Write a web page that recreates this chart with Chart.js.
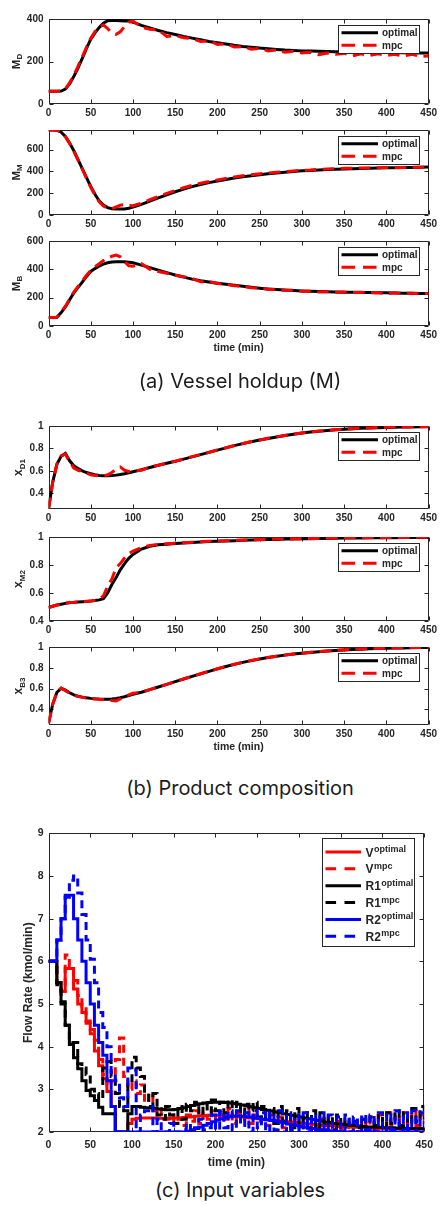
<!DOCTYPE html>
<html>
<head>
<meta charset="utf-8">
<script src="https://cdn.jsdelivr.net/npm/chart.js@4.4.1/dist/chart.umd.min.js"></script>
<style>
  html, body { margin: 0; padding: 0; background: #fff; }
  #page { position: relative; width: 440px; height: 1205px; overflow: hidden; }
  #page canvas { position: absolute; left: 0; }
  .caption { position: absolute; left: 0; width: 480px; text-align: center;
             font-family: Inter, "Noto Sans", sans-serif; font-size: 20px; line-height: 24px; color: #1c1c1c; }
</style>
</head>
<body>
<div id="page">
  <canvas id="cMD" width="440" height="112" style="top:8px"></canvas>
  <canvas id="cMM" width="440" height="112" style="top:119px"></canvas>
  <canvas id="cMB" width="440" height="124" style="top:230px"></canvas>
  <div class="caption" style="top:369px">(a) Vessel holdup (M)</div>
  <canvas id="cXD" width="440" height="110" style="top:415px"></canvas>
  <canvas id="cXM" width="440" height="111" style="top:526px"></canvas>
  <canvas id="cXB" width="440" height="117" style="top:636px"></canvas>
  <div class="caption" style="top:776px">(b) Product composition</div>
  <canvas id="cFlow" width="440" height="348" style="top:822px"></canvas>
  <div class="caption" style="top:1178px">(c) Input variables</div>
</div>
<script>
// ---------- time axes (min) ----------
const tProfile = [0,5,10,15,20,25,30,35,40,45,50,55,60,65,70,75,80,85,90,95,100,
  110,120,130,140,150,160,170,180,190,200,210,220,230,240,250,260,270,280,290,300,
  310,320,330,340,350,360,370,380,390,400,410,420,430,440,450];
const tFlow = [0,5,10,15,20,25,30,35,40,45,50,55,60,65,70,75,80,85,90,95,
  100,105,110,115,120,125,130,135,140,145,150,155,160,165,170,175,180,185,190,195,
  200,205,210,215,220,225,230,235,240,245,250,255,260,265,270,275,280,285,290,295,
  300,305,310,315,320,325,330,335,340,345,350,355,360,365,370,375,380,385,390,395,
  400,405,410,415,420,425,430,435,440,445,450];

// ---------- tick labels ----------
const timeTicks = [0,50,100,150,200,250,300,350,400,450];
const ticksMD = [0,200,400];
const ticksMM = [0,200,400,600];
const ticksMB = [0,200,400,600];
const ticksX = [0.4,0.6,0.8,1];
const ticksFlow = [2,3,4,5,6,7,8,9];

// ---------- vessel holdups ----------
const holdupD_opt = [60,60,60,61,70,95,130,170,215,262,305,335,360,380,392,393,393,392,391,390,385,
  370,358,346,336,327,318,310,302,294,288,282,276,271,267,263,260,257,254,252,250,
  249,248,247,246,245,244,244,243,243,242,242,241,241,240,240];
const holdupD_mpc = [60,60,60,61,72,100,135,178,222,268,310,340,362,372,355,335,328,340,365,385,390,
  362,352,348,318,322,312,308,294,298,280,284,268,270,258,262,250,254,244,248,240,
  243,232,240,234,238,226,236,228,236,228,234,226,234,224,226];
const holdupM_opt = [780,780,778,760,721,660,590,508,426,343,262,190,131,92,68,58,55,55,56,62,72,
  98,128,158,186,213,238,260,280,297,312,326,339,351,361,370,378,386,393,399,405,
  409,413,417,420,423,425,427,429,431,433,434,436,437,438,440];
const holdupM_mpc = [780,780,778,758,718,655,585,502,420,336,255,182,122,82,62,58,75,90,95,88,85,
  108,140,170,198,224,250,272,292,308,322,336,349,360,370,378,386,392,398,404,410,
  413,418,421,424,428,428,432,432,434,435,436,436,438,438,442];
const holdupB_opt = [60,60,62,95,134,185,234,273,310,350,385,405,423,437,446,451,453,453,453,450,446,
  430,412,394,377,360,345,331,319,310,302,294,287,280,273,267,262,258,254,250,247,
  245,243,241,240,239,238,237,236,235,234,233,232,231,230,229];
const holdupB_mpc = [60,60,62,100,140,190,240,280,318,358,392,418,440,462,480,492,500,488,455,425,422,
  440,400,385,372,358,347,336,312,314,300,296,284,280,270,268,258,258,250,252,246,
  246,240,242,238,240,236,238,234,236,228,234,230,232,228,230];

// ---------- product compositions ----------
const compD1_opt = [0.26,0.5,0.66,0.73,0.755,0.69,0.645,0.62,0.6,0.585,0.575,0.565,0.558,0.556,0.556,0.558,0.562,0.568,0.575,0.583,0.592,
  0.61,0.63,0.65,0.668,0.685,0.705,0.725,0.745,0.765,0.785,0.805,0.825,0.843,0.86,0.875,0.889,0.902,0.915,0.927,0.937,
  0.946,0.954,0.96,0.966,0.971,0.975,0.979,0.982,0.985,0.987,0.989,0.991,0.992,0.993,0.994];
const compD1_mpc = [0.26,0.5,0.66,0.735,0.75,0.68,0.625,0.605,0.595,0.58,0.565,0.558,0.555,0.555,0.565,0.585,0.615,0.635,0.605,0.595,0.6,
  0.605,0.635,0.65,0.668,0.686,0.706,0.727,0.746,0.766,0.787,0.806,0.826,0.844,0.861,0.876,0.89,0.903,0.916,0.928,0.938,
  0.947,0.955,0.961,0.967,0.972,0.976,0.98,0.983,0.986,0.988,0.99,0.992,0.993,0.994,0.995];
const compM2_opt = [0.496,0.505,0.514,0.52,0.526,0.53,0.533,0.536,0.538,0.54,0.542,0.546,0.551,0.56,0.6,0.66,0.71,0.765,0.81,0.848,0.876,
  0.914,0.934,0.944,0.949,0.953,0.957,0.961,0.964,0.967,0.97,0.972,0.974,0.976,0.978,0.98,0.982,0.983,0.985,0.986,0.987,
  0.988,0.989,0.99,0.991,0.992,0.993,0.993,0.994,0.994,0.995,0.995,0.996,0.996,0.997,0.997];
const compM2_mpc = [0.496,0.505,0.514,0.52,0.528,0.532,0.534,0.537,0.539,0.541,0.543,0.548,0.556,0.58,0.65,0.7,0.78,0.81,0.85,0.88,0.9,
  0.925,0.94,0.948,0.952,0.956,0.959,0.963,0.966,0.969,0.972,0.974,0.976,0.978,0.98,0.982,0.983,0.985,0.986,0.987,0.988,
  0.989,0.99,0.991,0.992,0.993,0.994,0.994,0.995,0.995,0.996,0.996,0.997,0.997,0.998,0.998];
const compB3_opt = [0.265,0.45,0.565,0.603,0.585,0.56,0.54,0.527,0.518,0.511,0.506,0.502,0.499,0.497,0.497,0.5,0.506,0.513,0.522,0.533,0.545,
  0.565,0.59,0.615,0.64,0.667,0.692,0.717,0.742,0.766,0.79,0.812,0.833,0.852,0.869,0.885,0.899,0.911,0.922,0.932,0.94,
  0.948,0.955,0.961,0.967,0.972,0.976,0.979,0.982,0.985,0.988,0.99,0.991,0.993,0.994,0.995];
const compB3_mpc = [0.265,0.45,0.57,0.605,0.58,0.555,0.537,0.525,0.516,0.509,0.504,0.5,0.497,0.495,0.49,0.485,0.482,0.5,0.52,0.54,0.555,
  0.565,0.59,0.616,0.641,0.668,0.693,0.718,0.743,0.767,0.791,0.813,0.834,0.853,0.87,0.886,0.9,0.912,0.923,0.933,0.941,
  0.949,0.956,0.962,0.968,0.973,0.977,0.98,0.983,0.986,0.989,0.991,0.992,0.994,0.995,0.996];

// ---------- input variables (kmol/min), held over each 5 min interval ----------
const flowV_opt = [6,6,5.5,5.3,5.83,5.83,5.35,5.0,4.8,4.55,
  4.3,3.9,3.55,3.25,2.95,2.6,2,2,2,2.2,
  2.3,2.32,2.33,2.33,2.33,2.33,2.32,2.32,2.32,2.32,
  2.33,2.33,2.34,2.35,2.36,2.37,2.38,2.38,2.39,2.39,
  2.39,2.39,2.38,2.38,2.37,2.36,2.35,2.34,2.33,2.32,
  2.31,2.3,2.29,2.28,2.27,2.26,2.25,2.24,2.23,2.22,
  2.21,2.2,2.19,2.18,2.17,2.16,2.15,2.15,2.14,2.13,
  2.13,2.12,2.12,2.11,2.11,2.1,2.1,2.1,2.09,2.09,
  2.09,2.08,2.08,2.08,2.08,2.07,2.07,2.07,2.07,2.07,
  2.07];
const flowV_mpc = [6,6,5.5,5.3,6.15,5.9,5.55,5.2,4.95,4.6,
  4.4,4.15,3.7,3.35,3.1,3.2,3.7,4.2,3.3,3.0,
  3.2,2.9,3.1,2.7,2.9,2.5,2.55,2.35,2.3,2.25,
  2.4,2.3,2.15,2.4,2.25,2.5,2.2,2.45,2.3,2.5,
  2.25,2.45,2.3,2.55,2.2,2.45,2.3,2.5,2.2,2.4,
  2.25,2.45,2.15,2.4,2.2,2.35,2.1,2.4,2.15,2.3,
  2.1,2.35,2.05,2.3,2.1,2.3,2.05,2.35,2.1,2.25,
  2.05,2.3,2.1,2.2,2.0,2.3,2.1,2.35,2.05,2.4,
  2.1,2.45,2.15,2.4,2.1,2.45,2.2,2.5,2.15,2.4,
  2.2];
const flowR1_opt = [6,6,5.5,5.0,4.5,4.05,3.74,3.48,3.2,2.97,
  2.85,2.74,2.58,2.43,2.43,2.43,2,2,2,2.43,
  2.6,2.6,2.58,2.57,2.56,2.55,2.54,2.53,2.52,2.52,
  2.53,2.55,2.57,2.6,2.62,2.64,2.66,2.68,2.69,2.7,
  2.7,2.7,2.69,2.68,2.67,2.65,2.63,2.61,2.59,2.57,
  2.55,2.53,2.51,2.49,2.47,2.45,2.43,2.41,2.39,2.37,
  2.35,2.33,2.31,2.29,2.27,2.25,2.23,2.22,2.2,2.19,
  2.18,2.17,2.16,2.15,2.14,2.13,2.12,2.12,2.11,2.11,
  2.1,2.1,2.1,2.09,2.09,2.09,2.08,2.08,2.08,2.08,
  2.08];
const flowR1_mpc = [6,6,5.45,5.05,4.5,4.1,4.1,3.6,3.5,3.35,
  3.0,2.9,2.75,3.5,3.65,3.3,2.9,2.6,2.5,3.2,
  3.75,3.5,3.3,2.9,2.6,2.9,2.4,2.3,2.6,2.4,
  2.2,2.6,2.3,2.65,2.5,2.7,2.4,2.65,2.45,2.75,
  2.5,2.7,2.45,2.75,2.55,2.7,2.4,2.65,2.5,2.7,
  2.35,2.6,2.3,2.55,2.2,2.6,2.25,2.5,2.1,2.55,
  2.15,2.45,2.1,2.5,2.05,2.45,2.15,2.35,2.05,2.4,
  2.1,2.3,2.0,2.25,2.1,2.3,2.05,2.35,2.15,2.4,
  2.1,2.45,2.2,2.5,2.15,2.45,2.2,2.55,2.25,2.6,
  2.3];
const flowR2_opt = [6,6,6.5,7.0,7.55,7.55,7.0,6.5,6.0,5.5,
  5.0,4.5,4.1,3.8,3.2,2.6,2,2,2,2,
  2,2,2,2,2,2,2,2,2,2,
  2,2,2,2.02,2.05,2.08,2.12,2.16,2.2,2.24,
  2.28,2.31,2.34,2.36,2.37,2.38,2.37,2.36,2.35,2.33,
  2.32,2.3,2.29,2.27,2.25,2.23,2.21,2.19,2.17,2.15,
  2.13,2.11,2.09,2.08,2.06,2.05,2.04,2.03,2.02,2.01,
  2,2,2,2,2,2,2,2,2,2,
  2,2,2,2,2,2,2,2,2,2,
  2];
const flowR2_mpc = [6,6,6.5,7.0,7.5,7.9,8.0,7.6,7.1,6.5,
  6.05,5.5,4.8,4.45,4.0,3.4,3.2,2.8,2.6,3.5,
  3.45,2.0,2.4,2.5,2.6,2.0,2.3,2.0,2.0,2.2,
  2.0,2.0,2.05,2.2,2.0,2.1,2.3,2.05,2.1,2.4,
  2.05,2.5,2.1,2.5,2.05,2.5,2.15,2.45,2.0,2.5,
  2.1,2.45,2.0,2.45,2.05,2.5,2.0,2.45,2.05,2.4,
  2.0,2.45,2.0,2.4,2.05,2.45,2.0,2.4,2.0,2.35,
  2.0,2.4,2.0,2.35,2.0,2.4,2.05,2.4,2.0,2.45,
  2.0,2.45,2.05,2.5,2.0,2.45,2.05,2.5,2.0,2.45,
  2.1];

// ---------- drawing helpers ----------
const INK = '#262626';
const SANS = '"Liberation Sans", Arial, Helvetica, sans-serif';

function points(times, values) {
  return times.map((t, i) => ({ x: t, y: values[i] }));
}

// framed axes with inward tick marks on all four sides
const framedAxes = {
  id: 'framedAxes',
  beforeDatasetsDraw(chart, args, o) {
    const { ctx, chartArea: a, scales: { x, y } } = chart;
    const L = Math.round(a.left) + 0.5, R = Math.round(a.right) - 0.5;
    const T = Math.round(a.top) + 0.5, B = Math.round(a.bottom) - 0.5;
    const len = o.tick;
    ctx.save();
    ctx.strokeStyle = INK;
    ctx.lineWidth = 1;
    ctx.beginPath();
    ctx.rect(L, T, R - L, B - T);
    x.ticks.forEach(t => {
      const px = Math.round(x.getPixelForValue(t.value)) + 0.5;
      ctx.moveTo(px, B); ctx.lineTo(px, B - len);
      ctx.moveTo(px, T); ctx.lineTo(px, T + len);
    });
    y.ticks.forEach(t => {
      const py = Math.round(y.getPixelForValue(t.value)) + 0.5;
      ctx.moveTo(L, py); ctx.lineTo(L + len, py);
      ctx.moveTo(R, py); ctx.lineTo(R - len, py);
    });
    ctx.stroke();
    ctx.restore();
  }
};

// rotated y-axis label with an optional subscript
const sideTitle = {
  id: 'sideTitle',
  afterDraw(chart, args, o) {
    if (!o.text) return;
    const { ctx, chartArea: a } = chart;
    const main = `bold ${o.size}px ${SANS}`;
    const small = `bold ${o.subSize || o.size}px ${SANS}`;
    ctx.save();
    ctx.fillStyle = INK;
    ctx.font = main;
    const w1 = ctx.measureText(o.text).width;
    let w2 = 0;
    if (o.sub) { ctx.font = small; w2 = ctx.measureText(o.sub).width; }
    ctx.translate(o.x, (a.top + a.bottom) / 2);
    ctx.rotate(-Math.PI / 2);
    ctx.textAlign = 'left';
    ctx.textBaseline = 'alphabetic';
    const x0 = -(w1 + w2) / 2;
    ctx.font = main;
    ctx.fillText(o.text, x0, 0);
    if (o.sub) { ctx.font = small; ctx.fillText(o.sub, x0 + w1, o.subShift); }
    ctx.restore();
  }
};

// boxed legend inside the upper-right corner of the plot
const boxLegend = {
  id: 'boxLegend',
  afterDatasetsDraw(chart, args, o) {
    const { ctx, chartArea: a } = chart;
    const left = Math.round(a.right - o.right - o.width);
    const top = Math.round(a.top + o.top);
    ctx.save();
    ctx.fillStyle = '#fff';
    ctx.fillRect(left, top, o.width, o.height);
    ctx.strokeStyle = INK;
    ctx.lineWidth = 1;
    ctx.strokeRect(left + 0.5, top + 0.5, o.width, o.height);
    chart.data.datasets.forEach((ds, i) => {
      const yy = top + o.first + i * o.step;
      ctx.strokeStyle = ds.borderColor;
      ctx.lineWidth = ds.borderWidth;
      ctx.setLineDash(ds.borderDash ? o.dash : []);
      ctx.beginPath();
      ctx.moveTo(left + o.lineFrom, yy);
      ctx.lineTo(left + o.lineFrom + o.lineLen, yy);
      ctx.stroke();
      ctx.setLineDash([]);
      ctx.fillStyle = INK;
      ctx.textAlign = 'left';
      ctx.textBaseline = 'alphabetic';
      ctx.font = `bold ${o.size}px ${SANS}`;
      const tx = left + o.textFrom;
      ctx.fillText(ds.label, tx, yy + o.base);
      if (ds.sup) {
        const w = ctx.measureText(ds.label).width;
        ctx.font = `bold ${o.supSize}px ${SANS}`;
        ctx.fillText(ds.sup, tx + w + 0.5, yy + o.base - o.supRise);
      }
    });
    ctx.restore();
  }
};

function lineSet(label, times, values, color, dash, order, sup) {
  return {
    label, sup, order,
    data: points(times, values),
    borderColor: color,
    borderWidth: 3,
    borderDash: dash,
    pointRadius: 0,
    fill: false,
    tension: 0
  };
}

function makeChart(id, spec) {
  const tickFont = { family: SANS, weight: 'bold', size: spec.tickSize };
  return new Chart(document.getElementById(id), {
    type: 'line',
    data: { datasets: spec.datasets },
    options: {
      responsive: false,
      animation: false,
      events: [],
      layout: { padding: { top: 8, right: 8.5, left: 0, bottom: 0 } },
      scales: {
        x: {
          type: 'linear', min: 0, max: 450,
          afterBuildTicks: s => { s.ticks = timeTicks.map(v => ({ value: v })); },
          afterFit: s => { s.height = spec.bottom; },
          grid: { display: false, drawTicks: false },
          border: { display: false },
          ticks: { color: INK, padding: spec.xPad, maxRotation: 0, autoSkip: false,
                   font: tickFont, callback: v => String(v) },
          title: spec.xTitle
            ? { display: true, text: 'time (min)', color: INK, padding: { top: 0, bottom: 0 },
                font: { family: SANS, weight: 'bold', size: spec.xTitleSize } }
            : { display: false }
        },
        y: {
          type: 'linear', min: spec.yMin, max: spec.yMax,
          afterBuildTicks: s => { s.ticks = spec.yTicks.map(v => ({ value: v })); },
          afterFit: s => { s.width = 48.5; },
          grid: { display: false, drawTicks: false },
          border: { display: false },
          ticks: { color: INK, padding: 5, autoSkip: false, font: tickFont, callback: v => String(v) }
        }
      },
      plugins: {
        legend: { display: false },
        tooltip: { enabled: false },
        framedAxes: { tick: 4 },
        sideTitle: spec.yTitle,
        boxLegend: spec.legend
      }
    },
    plugins: [framedAxes, sideTitle, boxLegend]
  });
}

// ---------- subplots of holdup and composition ----------
const profileDash = [11.5, 6.5];
const smallLegend = { right: 10, top: 6, width: 81, height: 28, first: 7.8, step: 12.5,
  lineFrom: 3.5, lineLen: 36.5, textFrom: 44, size: 10, base: 3.5, dash: [13.5, 8] };

function profilePair(opt, mpc) {
  return [
    lineSet('optimal', tProfile, opt, '#000000', undefined, 1),
    lineSet('mpc', tProfile, mpc, '#ff0000', profileDash, 0)
  ];
}

function profile(id, opt, mpc, yMin, yMax, yTicks, yTitle, withTime) {
  makeChart(id, {
    datasets: profilePair(opt, mpc),
    yMin, yMax, yTicks, yTitle,
    tickSize: 10, xPad: 3,
    bottom: withTime ? 28 : 16,
    xTitle: withTime, xTitleSize: 10.5,
    legend: smallLegend
  });
}

profile('cMD', holdupD_opt, holdupD_mpc, 0, 400, ticksMD,
  { text: 'M', sub: 'D', x: 19.5, size: 11.5, subSize: 8, subShift: 2.8 }, false);
profile('cMM', holdupM_opt, holdupM_mpc, 0, 780, ticksMM,
  { text: 'M', sub: 'M', x: 19.5, size: 11.5, subSize: 8, subShift: 2.8 }, false);
profile('cMB', holdupB_opt, holdupB_mpc, 0, 600, ticksMB,
  { text: 'M', sub: 'B', x: 19.5, size: 11.5, subSize: 8, subShift: 2.8 }, true);
profile('cXD', compD1_opt, compD1_mpc, 0.26, 1, ticksX,
  { text: 'x', sub: 'D1', x: 22.3, size: 12, subSize: 8, subShift: 2.7 }, false);
profile('cXM', compM2_opt, compM2_mpc, 0.4, 1, ticksX,
  { text: 'x', sub: 'M2', x: 22.3, size: 12, subSize: 8, subShift: 2.7 }, false);
profile('cXB', compB3_opt, compB3_mpc, 0.25, 1, ticksX,
  { text: 'x', sub: 'B3', x: 22.3, size: 12, subSize: 8, subShift: 2.7 }, true);

// ---------- flow rates, zero-order hold ----------
const flowDash = [8, 5];
function flowSet(label, sup, values, color, dashed, order) {
  const ds = lineSet(label, tFlow, values, color, dashed ? flowDash : undefined, order, sup);
  ds.stepped = 'before';
  return ds;
}

makeChart('cFlow', {
  datasets: [
    flowSet('V', 'optimal', flowV_opt, '#ff0000', false, 5),
    flowSet('V', 'mpc', flowV_mpc, '#ff0000', true, 4),
    flowSet('R1', 'optimal', flowR1_opt, '#000000', false, 3),
    flowSet('R1', 'mpc', flowR1_mpc, '#000000', true, 2),
    flowSet('R2', 'optimal', flowR2_opt, '#0000ff', false, 1),
    flowSet('R2', 'mpc', flowR2_mpc, '#0000ff', true, 0)
  ],
  yMin: 2, yMax: 9, yTicks: ticksFlow,
  yTitle: { text: 'Flow Rate (kmol/min)', x: 31.5, size: 12 },
  tickSize: 10.5, xPad: 7,
  bottom: 38, xTitle: true, xTitleSize: 12,
  legend: { right: 10, top: 5, width: 92, height: 108, first: 14, step: 16.85,
    lineFrom: 3.5, lineLen: 35.5, textFrom: 43.5, size: 12, supSize: 9, supRise: 4.5,
    base: 4.5, dash: [10.6, 8.4] }
});
</script>
</body>
</html>
